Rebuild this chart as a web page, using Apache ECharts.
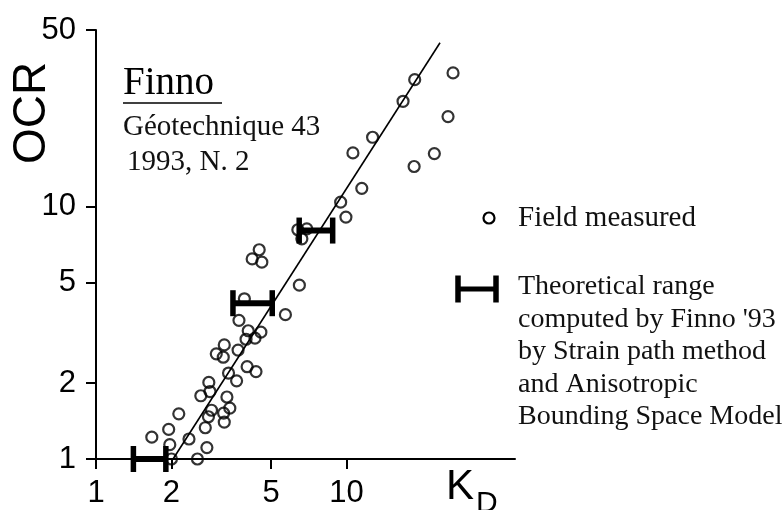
<!DOCTYPE html>
<html>
<head>
<meta charset="utf-8">
<script src="https://cdn.jsdelivr.net/npm/echarts@6/dist/echarts.min.js"></script>
<style>
  html, body { margin: 0; padding: 0; background: #fff; }
  #chart { width: 784px; height: 510px; }
</style>
</head>
<body>
<div id="chart"></div>
<script>
// Field measured points: dilatometer index K_D and overconsolidation ratio OCR
const fieldKD = [
  1.67, 1.95, 1.97, 2.00, 2.14, 2.35, 2.54, 2.77, 2.73, 2.62,
  2.82, 2.85, 2.89, 2.81, 3.02, 3.25, 3.22, 3.33, 3.42, 3.25,
  3.23, 3.38, 3.64, 3.69, 3.72, 4.01, 4.35, 4.05, 3.97, 4.31,
  4.55, 3.91, 5.70, 6.48, 4.20, 4.59, 4.48, 6.39, 6.94, 6.63,
  9.47, 9.94, 11.5, 10.6, 12.7, 16.8, 18.7, 26.6, 25.4, 22.4,
  18.6
];
const fieldOCR = [
  1.22, 1.31, 1.14, 1.00, 1.51, 1.20, 1.00, 1.11, 1.33, 1.78,
  2.01, 1.85, 1.56, 1.47, 2.61, 2.83, 2.53, 1.76, 1.59, 1.40,
  1.52, 2.19, 2.04, 2.70, 3.54, 2.32, 2.22, 3.22, 2.98, 3.01,
  3.18, 4.31, 3.73, 4.88, 6.20, 6.02, 6.74, 8.09, 8.16, 7.45,
  10.4, 9.08, 11.8, 16.3, 18.8, 26.1, 31.8, 33.8, 22.7, 16.2,
  14.4
];

// Theoretical ranges (Finno '93): K_D from / to, at a given OCR
const rangeKDLow  = [1.41, 3.52, 6.47];
const rangeKDHigh = [1.90, 5.05, 8.80];
const rangeOCR    = [1.00, 4.14, 8.03];

// Correlation line end points
const trendKD  = [2.03, 23.6];
const trendOCR = [1.00, 44.5];

// Axis ticks
const xTicks = [1, 2, 5, 10];
const yTicks = [1, 2, 5, 10, 50];
const xMax = 47;
const yMax = 50;

const sans = '"Liberation Sans", Arial, Helvetica, sans-serif';
const serif = '"Liberation Serif", "Times New Roman", serif';

const fieldData = fieldKD.map((k, i) => [k, fieldOCR[i]]);
const trendData = trendKD.map((k, i) => [k, trendOCR[i]]);
const rangeData = rangeKDLow.map((k, i) => [k, rangeKDHigh[i], rangeOCR[i]]);

const chart = echarts.init(document.getElementById('chart'), null, { renderer: 'canvas' });

const axisCommon = {
  type: 'log',
  logBase: 10,
  splitLine: { show: false },
  axisLine: { show: true, onZero: false, lineStyle: { color: '#000', width: 2 } },
  axisTick: { show: true, inside: false, length: 10, lineStyle: { color: '#000', width: 2 } },
  axisLabel: { color: '#000', fontFamily: sans, fontSize: 31 }
};

chart.setOption({
  backgroundColor: '#fff',
  animation: false,
  grid: { left: 96, right: 269, top: 30, bottom: 51, containLabel: false },
  xAxis: Object.assign({}, axisCommon, {
    min: 1, max: xMax,
    axisTick: Object.assign({}, axisCommon.axisTick, { customValues: xTicks }),
    axisLabel: Object.assign({}, axisCommon.axisLabel, { customValues: xTicks, margin: 19 })
  }),
  yAxis: Object.assign({}, axisCommon, {
    min: 1, max: yMax,
    axisTick: Object.assign({}, axisCommon.axisTick, { customValues: yTicks }),
    axisLabel: Object.assign({}, axisCommon.axisLabel, { customValues: yTicks, margin: 20 })
  }),
  series: [
    {
      name: 'Correlation',
      type: 'line',
      data: trendData,
      symbol: 'none',
      clip: false,
      lineStyle: { color: '#000', width: 1.6 },
      z: 2
    },
    {
      name: 'Field measured',
      type: 'scatter',
      data: fieldData,
      symbol: 'circle',
      symbolSize: 11,
      clip: false,
      itemStyle: { color: 'rgba(0,0,0,0)', borderColor: '#000', borderWidth: 2.2 },
      z: 3
    },
    {
      name: 'Theoretical range',
      type: 'custom',
      data: rangeData,
      clip: false,
      encode: { x: [0, 1], y: 2 },
      renderItem: function (params, api) {
        const ocr = api.value(2);
        const a = api.coord([api.value(0), ocr]);
        const b = api.coord([api.value(1), ocr]);
        const h = 13;
        const st = { stroke: '#000', lineWidth: 6 };
        return {
          type: 'group',
          children: [
            { type: 'line', shape: { x1: a[0], y1: a[1], x2: b[0], y2: b[1] }, style: st },
            { type: 'line', shape: { x1: a[0], y1: a[1] - h, x2: a[0], y2: a[1] + h }, style: { stroke: '#000', lineWidth: 5.5 } },
            { type: 'line', shape: { x1: b[0], y1: b[1] - h, x2: b[0], y2: b[1] + h }, style: { stroke: '#000', lineWidth: 5.5 } }
          ]
        };
      },
      z: 4
    }
  ],
  graphic: [
    // axis titles
    {
      type: 'text', x: 32, y: 113, rotation: Math.PI / 2,
      style: { text: 'OCR', font: '46px ' + sans, fill: '#000', align: 'center', verticalAlign: 'middle' }
    },
    {
      type: 'text', x: 446, y: 487,
      style: { text: 'K', font: '42px ' + sans, fill: '#000', align: 'left', verticalAlign: 'middle' }
    },
    {
      type: 'text', x: 476, y: 504,
      style: { text: 'D', font: '30px ' + sans, fill: '#000', align: 'left', verticalAlign: 'middle' }
    },
    // source note
    {
      type: 'text', x: 123, y: 84,
      style: { text: 'Finno', font: '39px ' + serif, fill: '#000', align: 'left', verticalAlign: 'middle' }
    },
    {
      type: 'line', shape: { x1: 123, y1: 103, x2: 222, y2: 103 },
      style: { stroke: '#000', lineWidth: 1.5 }
    },
    {
      type: 'text', x: 123, y: 127,
      style: { text: 'Géotechnique 43', font: '29px ' + serif, fill: '#111', align: 'left', verticalAlign: 'middle' }
    },
    {
      type: 'text', x: 127, y: 162,
      style: { text: '1993, N. 2', font: '29px ' + serif, fill: '#111', align: 'left', verticalAlign: 'middle' }
    },
    // key: field measured
    {
      type: 'circle', shape: { cx: 489, cy: 218, r: 5.5 },
      style: { fill: 'none', stroke: '#000', lineWidth: 2.2 }
    },
    {
      type: 'text', x: 518, y: 218,
      style: { text: 'Field measured', font: '29px ' + serif, fill: '#111', align: 'left', verticalAlign: 'middle' }
    },
    // key: theoretical range
    {
      type: 'group', x: 0, y: 0,
      children: [
        { type: 'line', shape: { x1: 457, y1: 289, x2: 497, y2: 289 }, style: { stroke: '#000', lineWidth: 5 } },
        { type: 'line', shape: { x1: 458, y1: 275.5, x2: 458, y2: 302.5 }, style: { stroke: '#000', lineWidth: 5.5 } },
        { type: 'line', shape: { x1: 496, y1: 275.5, x2: 496, y2: 302.5 }, style: { stroke: '#000', lineWidth: 5.5 } }
      ]
    },
    {
      type: 'text', x: 518, y: 270.5,
      style: {
        text: 'Theoretical range\ncomputed by Finno \'93\nby Strain path method\nand Anisotropic\nBounding Space Model',
        font: '28px ' + serif, lineHeight: 32.5, fill: '#111', align: 'left', verticalAlign: 'top'
      }
    }
  ]
});
</script>
</body>
</html>
